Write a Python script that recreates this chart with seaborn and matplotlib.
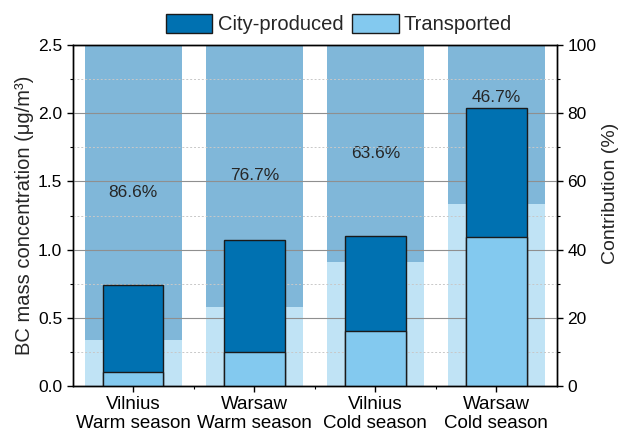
import matplotlib
matplotlib.use("Agg")
import matplotlib.pyplot as plt
import seaborn as sns
from matplotlib.patches import Patch
from matplotlib.ticker import MultipleLocator, FormatStrFormatter

# ---- data ----
categories = ["Vilnius\nWarm season", "Warsaw\nWarm season", "Vilnius\nCold season", "Warsaw\nCold season"]
total_conc = [0.74, 1.07, 1.10, 2.04]          # µg/m3 (city-produced + transported)
transported_conc = [0.10, 0.25, 0.40, 1.09]    # µg/m3
city_pct = [86.6, 76.7, 63.6, 46.7]            # %
transported_pct = [13.4, 23.3, 36.4, 53.3]     # %
full_pct = [100, 100, 100, 100]

c_city = "#0071B1"
c_trans = "#83C9EF"
c_city_bg = "#80B7D9"
c_trans_bg = "#C0E3F5"

sns.set_style("ticks")
plt.rcParams["font.family"] = ["Liberation Sans", "DejaVu Sans"]

fig = plt.figure(figsize=(6.22, 4.32), dpi=100)
ax = fig.add_axes([0.1168, 0.1065, 0.7786, 0.7893])
ax2 = ax.twinx()
ax.set_zorder(2)
ax2.set_zorder(1)
ax.patch.set_visible(False)

# background contribution bars (right axis)
sns.barplot(x=categories, y=full_pct, color=c_city_bg, width=0.8, saturation=1,
            errorbar=None, ax=ax2, linewidth=0)
sns.barplot(x=categories, y=transported_pct, color=c_trans_bg, width=0.8, saturation=1,
            errorbar=None, ax=ax2, linewidth=0)

# grid on the left axis
ax.set_axisbelow(True)
ax.yaxis.set_minor_locator(MultipleLocator(0.25))
ax.grid(which="major", axis="y", color="#8F8F8F", lw=0.8, ls="-")
ax.grid(which="minor", axis="y", color="#C8C8C8", lw=0.7, ls=(0, (2, 2)))

# front concentration bars (left axis)
sns.barplot(x=categories, y=total_conc, color=c_city, width=0.5, saturation=1,
            errorbar=None, ax=ax, edgecolor="#1a1a1a", linewidth=1)
sns.barplot(x=categories, y=transported_conc, color=c_trans, width=0.5, saturation=1,
            errorbar=None, ax=ax, edgecolor="#1a1a1a", linewidth=1)

# percentage labels
for i, (p, t, tot) in enumerate(zip(city_pct, transported_pct, total_conc)):
    mid = (t + 100) / 2
    bar_top_pct = tot / 2.5 * 100
    if mid < bar_top_pct + 4:
        ax2.text(i, bar_top_pct + 0.8, f"{p}%", ha="center", va="bottom", fontsize=12.5)
    else:
        ax2.text(i, mid, f"{p}%", ha="center", va="center", fontsize=12.5)

ax.set_xlim(-0.5, 3.5)
ax.set_ylim(0, 2.5)
ax2.set_ylim(0, 100)
ax.yaxis.set_major_locator(MultipleLocator(0.5))
ax.yaxis.set_major_formatter(FormatStrFormatter("%.1f"))
ax2.yaxis.set_major_locator(MultipleLocator(20))
ax2.yaxis.set_minor_locator(MultipleLocator(10))
ax.set_xticks([0.5, 1.5, 2.5], minor=True)

ax.set_ylabel("BC mass concentration (μg/m³)", fontsize=14.5, labelpad=3)
ax2.set_ylabel("Contribution (%)", fontsize=14)
ax2.yaxis.set_label_coords(1.093, 0.566)
ax.set_xlabel("")
ax2.set_xlabel("")

for a in (ax, ax2):
    for s in a.spines.values():
        s.set_visible(True)
        s.set_color("black")
        s.set_linewidth(1)
    a.tick_params(which="major", direction="out", length=4, width=1, colors="black", labelsize=12.5)
    a.tick_params(which="minor", direction="out", length=2.5, width=0.8, colors="black")
ax.tick_params(axis="x", which="major", labelsize=13.5, pad=3)

handles = [Patch(facecolor=c_city, edgecolor="#1a1a1a", lw=1),
           Patch(facecolor=c_trans, edgecolor="#1a1a1a", lw=1)]
fig.legend(handles, ["City-produced", "Transported"], loc="center",
           bbox_to_anchor=(0.545, 0.944), ncol=2, frameon=False, fontsize=14.5,
           handlelength=2.3, handleheight=1.1, handletextpad=0.25, columnspacing=0.45,
           borderaxespad=0, borderpad=0)

fig.savefig("out.png", dpi=100)
